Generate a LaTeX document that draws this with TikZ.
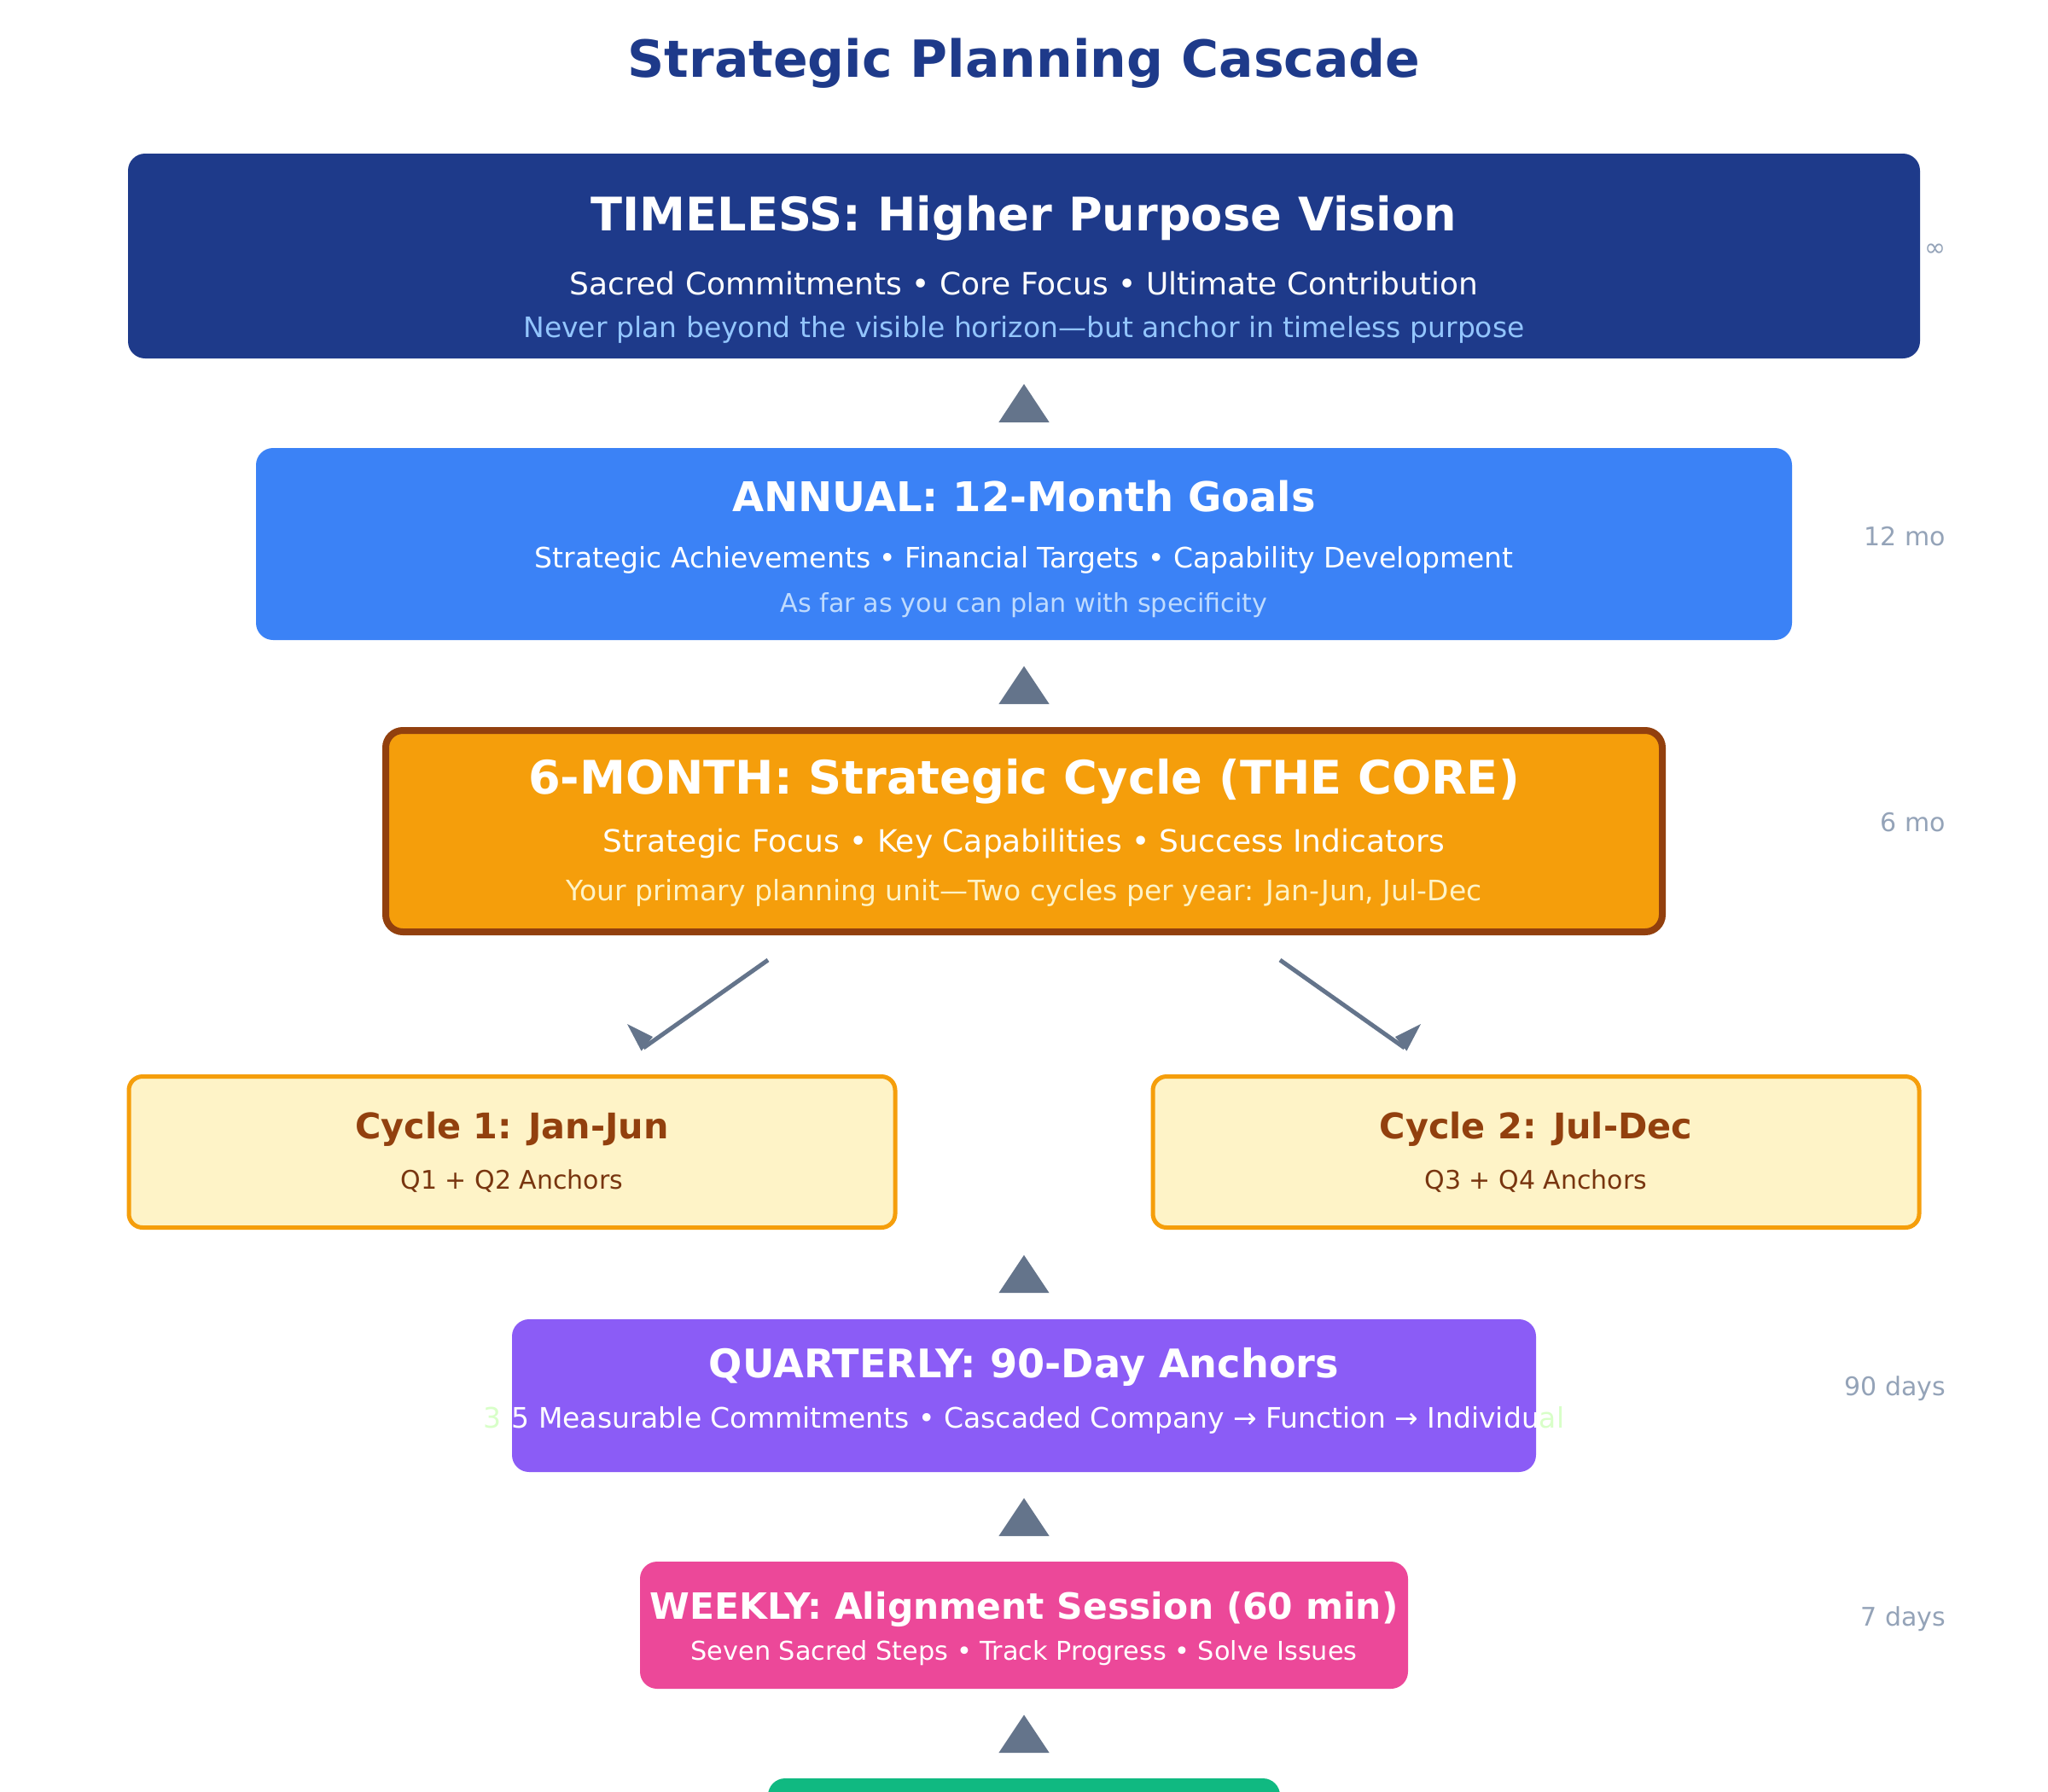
\documentclass[tikz,border=0pt]{standalone}
\usepackage{fontspec}
\setmainfont{DejaVu Sans}
\usetikzlibrary{calc}
\definecolor{navy}{HTML}{1E3A8A}
\definecolor{annualc}{HTML}{3B82F6}
\definecolor{amber}{HTML}{F59E0B}
\definecolor{amberdark}{HTML}{92400E}
\definecolor{amberdeep}{HTML}{78350F}
\definecolor{amberlight}{HTML}{FEF3C7}
\definecolor{violet}{HTML}{8B5CF6}
\definecolor{pink}{HTML}{EC4899}
\definecolor{emerald}{HTML}{10B981}
\definecolor{arrowc}{HTML}{64748B}
\definecolor{labelc}{HTML}{94A3B8}
\definecolor{skyl}{HTML}{93C5FD}
\definecolor{skyll}{HTML}{BFDBFE}
\definecolor{palegreen}{HTML}{D8FFC8}
\newcommand{\fs}[1]{\fontsize{#1}{#1}\selectfont}
\tikzset{
  box/.style={rounded corners=10pt, inner sep=0pt, outer sep=0pt},
  txt/.style={inner sep=0pt, outer sep=0pt, text height=.72em, text depth=0pt, anchor=center},
  lbl/.style={txt, anchor=east, text=labelc, font=\fs{15}},
  tri/.style={fill=arrowc},
  conn/.style={draw=arrowc, line width=2.5pt},
}
\begin{document}
\begin{tikzpicture}[x=1pt,y=-1pt]
\useasboundingbox (0,0) rectangle (1200,1050);
\clip (0,0) rectangle (1200,1050);
\fill[white] (0,0) rectangle (1200,1050);

% title
\node[txt, text=navy, font=\fs{30}\bfseries] (title) at (600,41.4) {Strategic Planning Cascade};

% timeless
\node[box, fill=navy, minimum width=1050pt, minimum height=120pt] (timeless) at (600,150) {};
\node[txt, text=white, font=\fs{27.1}\bfseries] (t1) at (600,131.7) {TIMELESS: Higher Purpose Vision};
\node[txt, text=white, font=\fs{18}] (t2) at (600,169) {Sacred Commitments • Core Focus • Ultimate Contribution};
\node[txt, text=skyl, font=\fs{16.5}] (t3) at (600,194.3) {Never plan beyond the visible horizon—but anchor in timeless purpose};
\node[lbl] (l0) at (1140,146.5) {∞};

\fill[tri] (600,225) -- (585.2,247.4) -- (614.8,247.4) -- cycle;

% annual
\node[box, fill=annualc, minimum width=900pt, minimum height=112.5pt] (annual) at (600,318.75) {};
\node[txt, text=white, font=\fs{24}\bfseries] (a1) at (600,296.2) {ANNUAL: 12-Month Goals};
\node[txt, text=white, font=\fs{16.5}] (a2) at (600,329.1) {Strategic Achievements • Financial Targets • Capability Development};
\node[txt, text=skyll, font=\fs{15.1}] (a3) at (600,355.1) {As far as you can plan with specificity};
\node[lbl] (l1) at (1140,316) {12 mo};

\fill[tri] (600,390.3) -- (585.2,412.5) -- (614.8,412.5) -- cycle;

% six month
\node[box, fill=amber, draw=amberdark, line width=4pt, minimum width=748pt, minimum height=118pt] (six) at (600,487) {};
\node[txt, text=white, font=\fs{27.1}\bfseries] (s1) at (600,461.4) {6-MONTH: Strategic Cycle (THE CORE)};
\node[txt, text=white, font=\fs{18}] (s2) at (600,495.8) {Strategic Focus • Key Capabilities • Success Indicators};
\node[txt, text=amberlight, font=\fs{16.5}] (s3) at (600,524.3) {Your primary planning unit—Two cycles per year: Jan-Jun, Jul-Dec};
\node[lbl] (l2) at (1140,483.5) {6 mo};

% diagonal connectors
\coordinate (d1s) at (450,562.5);
\coordinate (d1e) at (377,614);
\coordinate (d2s) at (750,562.5);
\coordinate (d2e) at (823,614);
\draw[conn] (d1s) -- (d1e);
\draw[conn] (d2s) -- (d2e);
\fill[tri] (367.5,600) -- (375.8,615.8) -- (382.5,607.5) -- cycle;
\fill[tri] (832.5,600) -- (824.2,615.8) -- (817.5,607.5) -- cycle;

% cycles
\node[box, rounded corners=8pt, fill=amberlight, draw=amber, line width=2.5pt, minimum width=449pt, minimum height=88.5pt] (c1) at (300,675) {};
\node[txt, text=amberdark, font=\fs{20.7}\bfseries] (c1t) at (300,663.5) {Cycle 1: Jan-Jun};
\node[txt, text=amberdeep, font=\fs{15}] (c1s) at (300,693.3) {Q1 + Q2 Anchors};
\node[box, rounded corners=8pt, fill=amberlight, draw=amber, line width=2.5pt, minimum width=449pt, minimum height=88.5pt] (c2) at (900,675) {};
\node[txt, text=amberdark, font=\fs{20.7}\bfseries] (c2t) at (900,663.5) {Cycle 2: Jul-Dec};
\node[txt, text=amberdeep, font=\fs{15}] (c2s) at (900,693.3) {Q3 + Q4 Anchors};

\fill[tri] (600,735.4) -- (585.2,757.6) -- (614.8,757.6) -- cycle;

% quarterly
\node[box, fill=violet, minimum width=600pt, minimum height=89.5pt] (quarter) at (600,817.75) {};
\node[txt, text=white, font=\fs{23.1}\bfseries] (q1) at (600,803.6) {QUARTERLY: 90-Day Anchors};
\node[txt, text=white, font=\fs{16.5}] (q2) at (600,833.3) {{\color{palegreen}3}-5 Measurable Commitments • Cascaded Company → Function → Individu{\color{palegreen}al}};
\node[lbl] (l3) at (1140,814.2) {90 days};

\fill[tri] (600,877.8) -- (585.2,900) -- (614.8,900) -- cycle;

% weekly
\node[box, fill=pink, minimum width=450pt, minimum height=74.5pt] (weekly) at (600,952.25) {};
\node[txt, text=white, font=\fs{21.2}\bfseries] (w1) at (600,945.1) {WEEKLY: Alignment Session (60 min)};
\node[txt, text=white, font=\fs{15.15}] (w2) at (600,968.9) {Seven Sacred Steps • Track Progress • Solve Issues};
\node[lbl] (l4) at (1140,948.9) {7 days};

\fill[tri] (600,1004.8) -- (585.2,1027) -- (614.8,1027) -- cycle;

% daily (cut off)
\node[box, fill=emerald, minimum width=300pt, minimum height=60pt] (daily) at (600,1072) {};
\end{tikzpicture}
\end{document}
